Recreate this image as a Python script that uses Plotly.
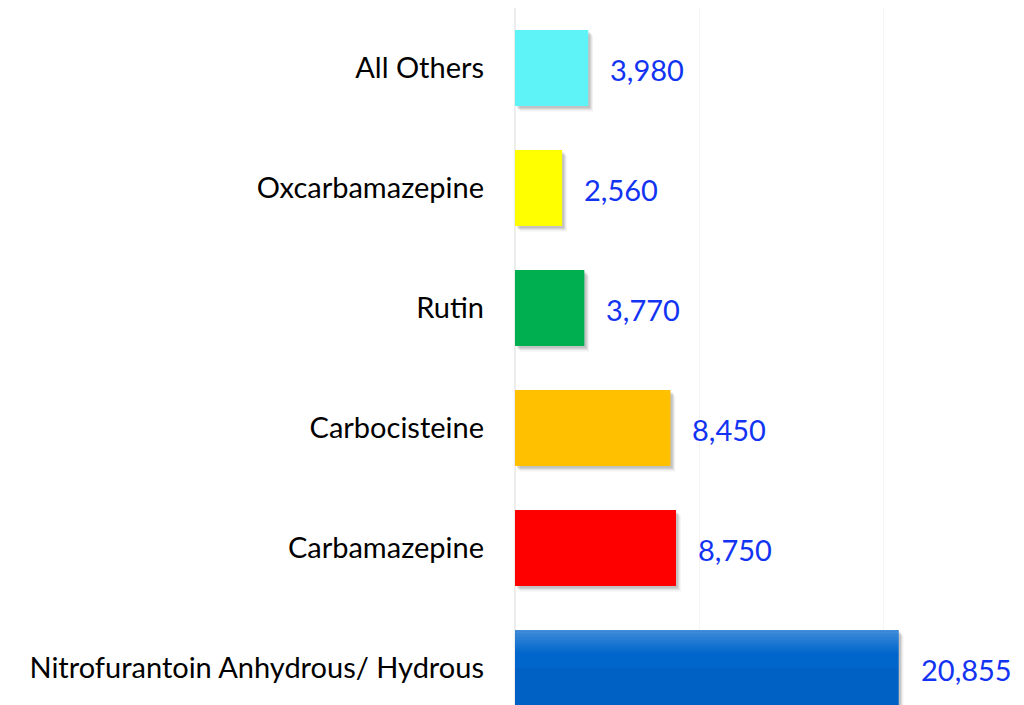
import plotly.graph_objects as go

categories = ["Nitrofurantoin Anhydrous/ Hydrous", "Carbamazepine", "Carbocisteine",
              "Rutin", "Oxcarbamazepine", "All Others"]
values = [20855, 8750, 8450, 3770, 2560, 3980]
colors = ["#0066CC", "#FF0000", "#FFC000", "#00B050", "#FFFF00", "#5EF3F7"]

FONT = "Lato"
pos = list(range(len(categories)))
bar_w = 0.633

fig = go.Figure()

# soft drop shadow derived from the data
for dx, dy, a in [(260, 0.045, 0.05), (190, 0.032, 0.08), (120, 0.02, 0.12)]:
    fig.add_trace(go.Bar(
        x=[v for v in values], y=[p - dy for p in pos], orientation="h",
        width=bar_w, marker=dict(color=f"rgba(0,0,0,{a})", line=dict(width=0)),
        base=[dx] * len(values), hoverinfo="skip", showlegend=False))

fig.add_trace(go.Bar(
    x=values, y=pos, orientation="h", width=bar_w,
    marker=dict(color=colors, line=dict(width=0)), showlegend=False))

# subtle light gradient at the top of the first bar
n_bands = 16
band = 0.012
for i in range(n_bands):
    fig.add_trace(go.Bar(
        x=[values[0]], y=[pos[0]], orientation="h", width=band,
        offset=bar_w / 2 - band * (i + 1),
        marker=dict(color=f"rgba(255,255,255,{0.25 * (1 - i / n_bands):.3f})", line=dict(width=0)),
        hoverinfo="skip", showlegend=False))
# slightly darker lower part
fig.add_trace(go.Bar(
    x=[values[0]], y=[pos[0]], orientation="h", width=bar_w / 2,
    offset=-bar_w / 2, marker=dict(color="rgba(0,40,120,0.07)", line=dict(width=0)),
    hoverinfo="skip", showlegend=False))

for v, p in zip(values, pos):
    fig.add_annotation(x=v, y=p, text=f"{v:,}", showarrow=False, xanchor="left",
                       xshift=20, yshift=-1, font=dict(family=FONT, size=29, color="#1234F2"))

fig.update_layout(
    width=1024, height=705,
    margin=dict(l=507, r=0, t=0, b=0),
    plot_bgcolor="white", paper_bgcolor="white",
    barmode="overlay",
    xaxis=dict(range=[0, 28098], showticklabels=False, showgrid=True, gridcolor="#F5F5F5",
               dtick=10000, zeroline=True, zerolinecolor="#EDEDED", zerolinewidth=2, showline=False),
    yaxis=dict(range=[-0.375, 5.5], tickvals=pos, ticktext=categories, showgrid=False,
               zeroline=False, ticklabelstandoff=30, ticks="",
               tickfont=dict(family=FONT, size=29, color="black")),
)
fig.write_html("out.html")
